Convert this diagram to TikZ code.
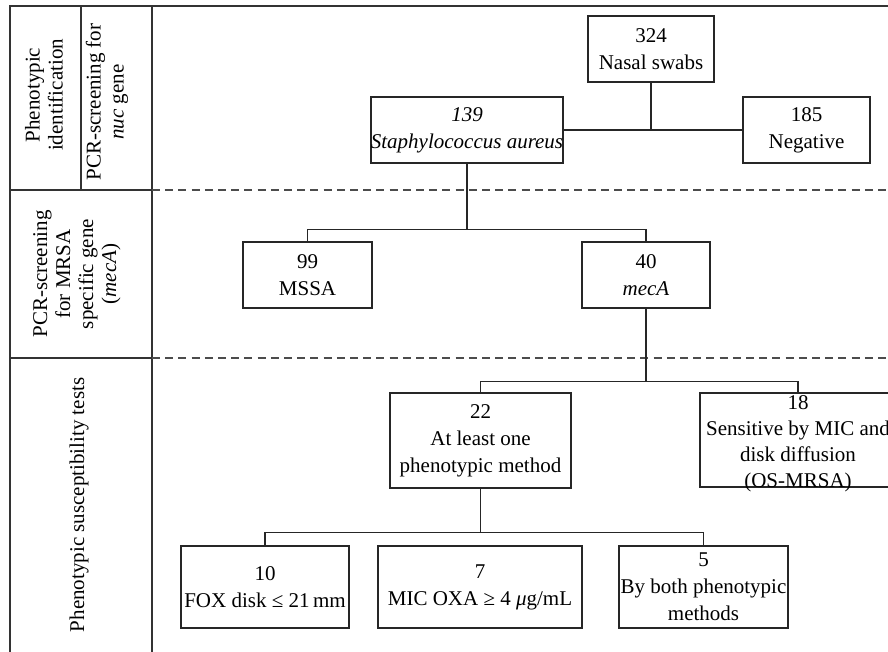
\documentclass[tikz,border=0pt]{standalone}
\usepackage{fontspec}
\setmainfont{Liberation Serif}
\usetikzlibrary{positioning}

\begin{document}
\begin{tikzpicture}[
    x=0.5pt, y=-0.5pt,
    every node/.style={font=\fontsize{10.5}{13.5}\selectfont},
    frame/.style={draw=black!80, line width=0.9pt},
    sep/.style={draw=black!70, line width=0.6pt, dash pattern=on 4pt off 2.6pt},
    fbox/.style={draw=black!85, line width=0.65pt, align=center, inner sep=0pt},
    ftext/.style={align=center, inner sep=0pt},
    conn/.style={draw=black!85, line width=0.65pt},
    rowlab/.style={rotate=90, align=center, inner sep=0pt, font=\fontsize{10.5}{11.5}\selectfont},
]
\useasboundingbox (0,0) rectangle (888,652);
\clip (0,0) rectangle (888,652);

% ===== LEFT COLUMN (stages) =====
\draw[frame] (888,6) -- (10,6) -- (10,652);
\draw[frame] (152,6) -- (152,652);
\draw[frame] (81,6) -- (81,190);
\draw[frame] (10,190) -- (152,190);
\draw[frame] (10,358) -- (152,358);

\node[rowlab] (lab-pheno) at (44,95) {Phenotypic\\identification};
\node[rowlab] (lab-nuc) at (107,102) {PCR-screening for\\\textit{nuc} gene};
\node[rowlab] (lab-meca) at (77,274) {PCR-screening\\for MRSA\\specific gene\\(\textit{mecA})};
\node[rowlab] (lab-susc) at (79,505) {Phenotypic susceptibility tests};

% dashed row separators
\draw[sep] (152,190) -- (888,190);
\draw[sep] (152,358) -- (888,358);

% ===== FLOW BOXES =====
\node[fbox, minimum width=63pt, minimum height=33pt] (nasal) at (651,49) {324\\Nasal swabs};
\node[fbox, minimum width=94pt, minimum height=33pt] (saureus) at (467,130)
    {\textit{139}\\\textit{Staphylococcus aureus}};
\node[fbox, minimum width=63.5pt, minimum height=33pt] (negative) at (806.5,130) {185\\Negative};

\node[fbox, minimum width=64.5pt, minimum height=33pt] (mssa) at (307.5,275) {99\\MSSA};
\node[fbox, minimum width=64pt, minimum height=33pt] (meca) at (646,275) {40\\\textit{mecA}};

\node[fbox, minimum width=90.5pt, minimum height=47.5pt] (atleast) at (480.5,440.5)
    {22\\At least one\\phenotypic method};
\node[fbox, minimum width=98pt, minimum height=47pt] (sens) at (798,440) {};
\node[ftext, font=\fontsize{10.5}{13}\selectfont] (sens-txt) at ([yshift=-2pt]sens.center)
    {18\\Sensitive by MIC and\\disk diffusion\\(OS-MRSA)};

\node[fbox, minimum width=84pt, minimum height=41pt] (fox) at (265,587) {10\\FOX disk ≤ 21\,mm};
\node[fbox, minimum width=102pt, minimum height=41pt] (mic) at (480,587) {7\\MIC OXA ≥ 4 \textit{μ}g/mL};
\node[fbox, minimum width=84.5pt, minimum height=41pt] (both) at (703.5,587) {5\\By both phenotypic\\methods};

% ===== CONNECTORS =====
\draw[conn] (nasal.south) -- (nasal.south |- saureus.east);
\draw[conn] (saureus.east) -- (negative.west);

\coordinate[above=6pt of mssa.north] (sa-split);
\draw[conn] (mssa.north) -- (sa-split) -| (meca.north);
\draw[conn] (saureus.south) -- (saureus.south |- sa-split);

\coordinate[above=5.5pt of atleast.north] (ma-split);
\draw[conn] (atleast.north) -- (ma-split) -| (sens.north);
\draw[conn] (meca.south) -- (meca.south |- ma-split);

\coordinate[above=6.5pt of fox.north] (al-split);
\draw[conn] (fox.north) -- (al-split) -| (both.north);
\draw[conn] (atleast.south) -- (atleast.south |- al-split);

\end{tikzpicture}
\end{document}
